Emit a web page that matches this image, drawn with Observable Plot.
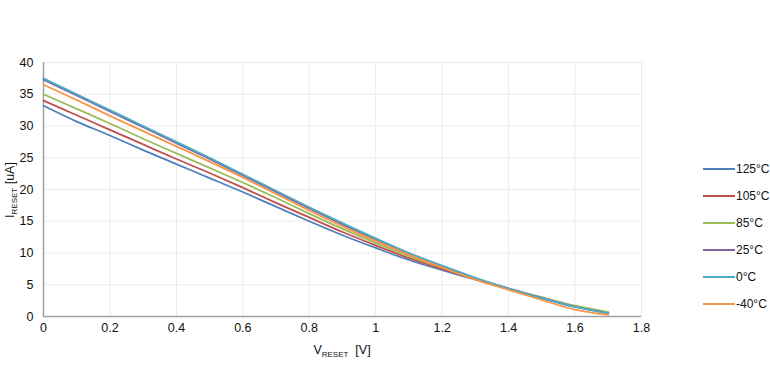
<!DOCTYPE html>
<html><head><meta charset="utf-8">
<script src="https://cdn.jsdelivr.net/npm/d3@7"></script>
<script src="https://cdn.jsdelivr.net/npm/@observablehq/plot@0.6"></script>
<style>
body{margin:0;background:#fff;}
#wrap{position:relative;width:770px;height:376px;font-family:"Liberation Sans",Tahoma,sans-serif;overflow:hidden;}
.legend{position:absolute;left:703px;top:155px;font-size:12px;color:#111;white-space:nowrap;}
.row{height:27px;display:flex;align-items:center;}
.sw{width:32px;height:2px;margin-right:1px;}
</style></head><body><div id="wrap"></div>
<script>
const voltages = [0,0.1,0.2,0.3,0.4,0.5,0.6,0.7,0.8,0.9,1.0,1.1,1.2,1.3,1.4,1.5,1.6,1.7];
const temps = ["125°C","105°C","85°C","25°C","0°C","-40°C"];
const colors = ["#4F81BD","#C0504D","#9BBB59","#8064A2","#4BACC6","#F79646"];
const i125 = [33.2,30.7,28.5,26.2,24.0,21.8,19.6,17.3,15.0,12.8,10.8,8.9,7.3,5.8,4.3,2.9,1.6,0.6];
const i105 = [34.0,31.7,29.4,27.1,24.8,22.6,20.3,17.9,15.6,13.3,11.2,9.2,7.5,5.9,4.4,3.0,1.6,0.6];
const i85  = [35.0,32.7,30.4,28.0,25.7,23.4,21.1,18.7,16.2,13.8,11.6,9.5,7.7,6.0,4.4,3.0,1.7,0.7];
const i25  = [37.3,34.8,32.3,29.8,27.3,24.8,22.2,19.6,17.0,14.5,12.1,9.9,7.9,6.0,4.4,2.9,1.5,0.5];
const i0   = [37.5,35.0,32.5,30.0,27.5,25.0,22.4,19.8,17.2,14.7,12.3,10.0,8.0,6.1,4.4,2.9,1.5,0.5];
const im40 = [36.5,34.1,31.6,29.2,26.8,24.4,21.9,19.3,16.7,14.2,11.9,9.7,7.7,5.8,4.2,2.6,1.1,0.25];
const xTicks = [0,0.2,0.4,0.6,0.8,1,1.2,1.4,1.6,1.8];
const yTicks = [0,5,10,15,20,25,30,35,40];

const series = [i125,i105,i85,i25,i0,im40];
const data = [];
series.forEach((s,k)=>s.forEach((v,j)=>data.push({t:temps[k], v:voltages[j], i:v})));

const plot = Plot.plot({
  width:770, height:376,
  marginLeft:43, marginRight:129, marginTop:62, marginBottom:60,
  style:{fontFamily:'"Liberation Sans",Tahoma,sans-serif', fontSize:"12.5px", color:"#111", background:"white", overflow:"visible"},
  x:{domain:[0,1.8]},
  y:{domain:[0,40]},
  color:{domain:temps, range:colors},
  marks:[
    Plot.gridX(xTicks,{stroke:"#ebebeb", strokeOpacity:1}),
    Plot.gridY(yTicks,{stroke:"#ebebeb", strokeOpacity:1}),
    Plot.axisX(xTicks,{tickSize:0, tickPadding:7, label:null, tickFormat:d=>String(d)}),
    Plot.axisY(yTicks,{tickSize:0, tickPadding:10, label:null, tickFormat:d=>String(d)}),
    Plot.ruleX([0],{stroke:"#a0a0a0", strokeWidth:1.5}),
    Plot.ruleY([0],{stroke:"#a0a0a0", strokeWidth:1.5}),
    Plot.line(data,{x:"v", y:"i", z:"t", stroke:"t", strokeWidth:1.8, curve:"monotone-x"})
  ]
});

const svg = d3.select(plot);
const font = '"Liberation Sans",Tahoma,sans-serif';
// x axis title
const xt = svg.append("text").attr("x",342).attr("y",354).attr("text-anchor","middle")
  .attr("font-family",font).attr("font-size",12.5).attr("fill","#111");
xt.append("tspan").text("V");
xt.append("tspan").attr("font-size",8).attr("dy",3).text("RESET");
xt.append("tspan").attr("dy",-3).text("\u00a0 [V]");
// y axis title
const yt = svg.append("text").attr("transform","translate(14,190) rotate(-90)").attr("text-anchor","middle")
  .attr("font-family",font).attr("font-size",12.5).attr("fill","#111");
yt.append("tspan").text("I");
yt.append("tspan").attr("font-size",8).attr("dy",3).text("RESET");
yt.append("tspan").attr("dy",-3).text(" [uA]");

const wrap = document.getElementById("wrap");
wrap.appendChild(plot);
const leg = document.createElement("div");
leg.className = "legend";
temps.forEach((t,k)=>{
  const r = document.createElement("div"); r.className="row";
  const s = document.createElement("div"); s.className="sw"; s.style.background=colors[k];
  const l = document.createElement("span"); l.textContent=t;
  r.appendChild(s); r.appendChild(l); leg.appendChild(r);
});
wrap.appendChild(leg);
</script></body></html>
